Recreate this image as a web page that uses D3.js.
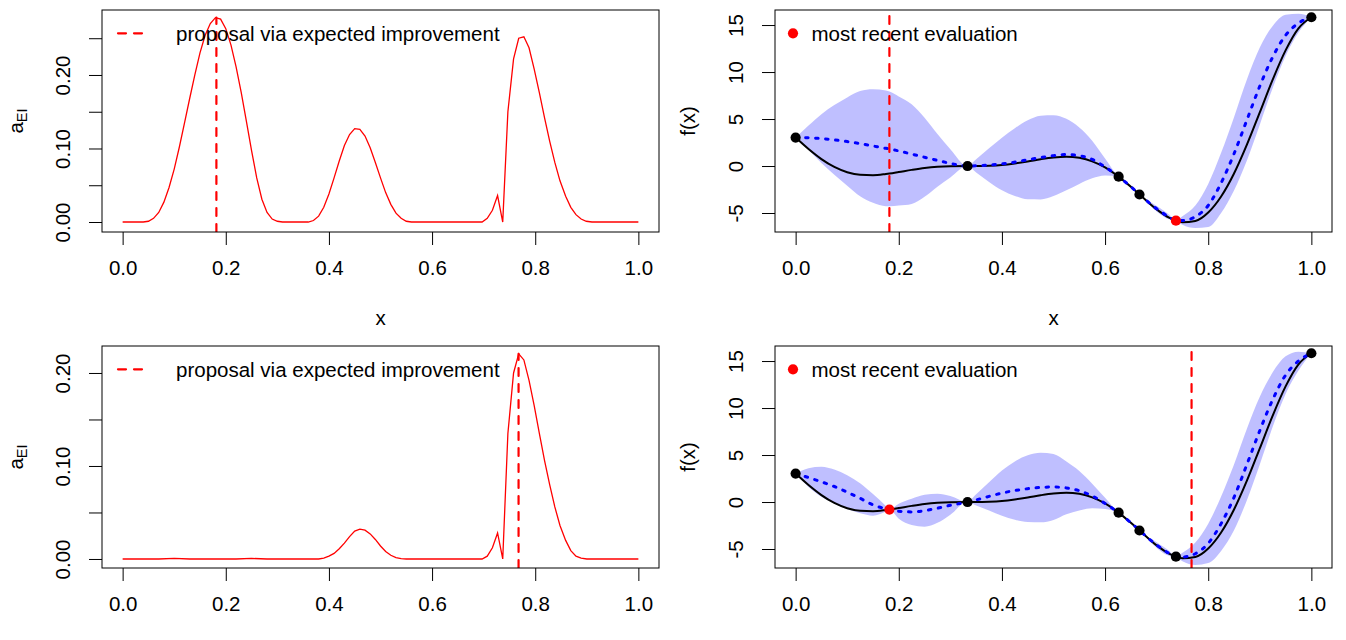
<!DOCTYPE html>
<html><head><meta charset="utf-8">
<script src="https://cdn.jsdelivr.net/npm/d3@7"></script>
<style>
body{margin:0;background:#fff}
svg{display:block}
text{font-family:"Liberation Sans",Arial,Helvetica,sans-serif;fill:#000}
</style>
</head><body>
<svg id="chart" width="1346" height="640"></svg>
<script>
// ---------------- data ----------------
const xTicks = [0, 0.2, 0.4, 0.6, 0.8, 1.0];
const eiTicksTop = [0, 0.05, 0.10, 0.15, 0.20, 0.25];
const eiTicksBottom = [0, 0.05, 0.10, 0.15, 0.20];
const eiLabelled = [0, 0.10, 0.20];
const fTicks = [-5, 0, 5, 10, 15];

const xLim = [-0.04, 1.04];
const eiLimTop = [-0.0136, 0.2884];
const eiLimBottom = [-0.0097, 0.229];
const fLim = [-7.02, 16.6];

// expected improvement, first iteration
const eiTopX = [0,0.04,0.05,0.06,0.07,0.08,0.09,0.10,0.11,0.12,0.13,0.14,0.15,0.16,0.17,0.18,0.19,0.20,0.21,0.22,0.23,0.24,0.25,0.26,0.27,0.28,0.29,0.30,0.31,
  0.36,0.37,0.38,0.39,0.40,0.41,0.42,0.43,0.44,0.45,0.46,0.47,0.48,0.49,0.50,0.51,0.52,0.53,0.54,0.55,0.56,
  0.697,0.707,0.717,0.727,0.737,0.747,0.758,0.768,0.778,0.788,0.798,0.808,0.818,0.828,0.838,0.848,0.859,0.869,0.879,0.889,0.899,0.91,1.0];
const eiTopY = [0,0,0.001,0.005,0.013,0.027,0.047,0.072,0.102,0.135,0.168,0.2,0.23,0.254,0.27,0.278,0.276,0.263,0.241,0.211,0.176,0.137,0.097,0.06,0.031,0.013,0.004,0.001,0,
  0,0.002,0.008,0.02,0.038,0.06,0.083,0.104,0.119,0.127,0.126,0.117,0.101,0.081,0.06,0.04,0.024,0.012,0.005,0.001,0,
  0,0.005,0.016,0.036,0,0.15,0.222,0.25,0.252,0.237,0.208,0.176,0.142,0.11,0.081,0.056,0.035,0.02,0.01,0.004,0.001,0,0];

// expected improvement, second iteration
const eiBotX = [0,0.07,0.1,0.13,0.22,0.25,0.28,0.38,0.39,0.40,0.41,0.42,0.43,0.44,0.45,0.46,0.47,0.48,0.49,0.50,0.51,0.52,0.53,0.54,0.55,
  0.697,0.707,0.717,0.727,0.737,0.747,0.758,0.768,0.778,0.788,0.798,0.808,0.818,0.828,0.838,0.848,0.859,0.869,0.879,0.889,0.9,1.0];
const eiBotY = [0,0,0.0006,0,0,0.0006,0,0,0.001,0.003,0.006,0.011,0.017,0.024,0.03,0.032,0.031,0.027,0.021,0.014,0.008,0.004,0.0015,0.0004,0,
  0,0.003,0.012,0.028,0,0.135,0.2,0.2206,0.214,0.192,0.165,0.135,0.106,0.08,0.056,0.036,0.02,0.009,0.003,0.001,0,0];

const proposalTop = 0.1818;
const proposalBottom = 0.7677;

// Gaussian-process panels
const gpX = [0,0.025,0.05,0.075,0.1,0.125,0.15,0.175,0.182,0.2,0.225,0.25,0.275,0.3,0.333,0.35,0.375,0.4,0.425,0.45,0.475,0.5,0.525,0.55,0.575,0.6,0.626,0.65,0.667,0.7,0.725,0.737,0.75,0.775,0.8,0.825,0.85,0.875,0.9,0.925,0.95,0.975,1.0];
const fTrue = [3.03,1.81,0.74,-0.10,-0.66,-0.94,-0.98,-0.85,-0.80,-0.64,-0.41,-0.21,-0.08,-0.02,0,0,0.03,0.11,0.27,0.48,0.72,0.91,0.99,0.87,0.50,-0.15,-1.13,-2.21,-3.03,-4.61,-5.52,-5.81,-5.99,-5.85,-4.95,-3.25,-0.80,2.27,5.71,9.19,12.30,14.65,15.83];

const meanTop = [3.03,3.0,2.92,2.78,2.6,2.38,2.13,1.88,1.82,1.6,1.27,0.93,0.6,0.28,0,0.02,0.1,0.22,0.42,0.66,0.9,1.1,1.22,1.1,0.7,-0.1,-1.13,-2.2,-3.03,-4.55,-5.45,-5.81,-5.8,-5.4,-4.2,-1.8,1.3,4.9,8.5,11.6,13.9,15.2,15.83];
const bandTop = [0,1.3,2.6,3.7,4.7,5.6,6.05,6.15,6.1,5.8,5.3,4.2,2.8,1.5,0,0.7,1.8,2.8,3.6,4.2,4.45,4.3,3.8,3.0,2.0,0.9,0,0.15,0,0.3,0.25,0,0.45,1.2,2.3,3.2,3.9,4.3,4.1,3.3,2.2,1.0,0];

const meanBottom = [3.03,2.6,2.15,1.65,1.05,0.4,-0.3,-0.72,-0.80,-0.98,-1.05,-0.92,-0.66,-0.35,0,0.22,0.6,0.95,1.22,1.42,1.55,1.6,1.5,1.2,0.65,-0.15,-1.13,-2.2,-3.03,-4.58,-5.48,-5.81,-5.85,-5.5,-4.4,-2.3,0.5,4.0,7.6,10.9,13.5,15.0,15.83];
const bandBottom = [0,1.0,1.6,1.8,1.8,1.6,1.15,0.3,0,0.8,1.4,1.7,1.55,1.0,0,0.6,1.5,2.4,3.1,3.55,3.7,3.5,2.8,2.1,1.3,0.6,0,0.15,0,0.3,0.25,0,0.45,1.2,2.1,2.9,3.5,3.8,3.6,2.9,2.0,1.0,0];

const obsTopX = [0, 0.3333, 0.6263, 0.6667, 1.0];
const obsTopY = [3.03, 0, -1.13, -3.03, 15.83];
const recentTop = [0.7374, -5.81];
const obsBotX = [0, 0.3333, 0.6263, 0.6667, 0.7374, 1.0];
const obsBotY = [3.03, 0, -1.13, -3.03, -5.81, 15.83];
const recentBot = [0.1818, -0.80];

const legendEI = "proposal via expected improvement";
const legendGP = "most recent evaluation";

// ---------------- drawing ----------------
const svg = d3.select("#chart");
const W = 557, H = 222, FS = 20.5, R = 5.1;
const FONT = '"Liberation Sans",Arial,Helvetica,sans-serif';
const panels = [
  {left:102, top:10, kind:"ei", xs:eiTopX, ys:eiTopY, lim:eiLimTop, ticks:eiTicksTop, prop:proposalTop, xlab:true},
  {left:775, top:10, kind:"gp", mean:meanTop, band:bandTop, obsX:obsTopX, obsY:obsTopY, recent:recentTop, prop:proposalTop, xlab:true},
  {left:102, top:346, kind:"ei", xs:eiBotX, ys:eiBotY, lim:eiLimBottom, ticks:eiTicksBottom, prop:proposalBottom, xlab:false},
  {left:775, top:346, kind:"gp", mean:meanBottom, band:bandBottom, obsX:obsBotX, obsY:obsBotY, recent:recentBot, prop:proposalBottom, xlab:false}
];

panels.forEach((p, i) => {
  const g = svg.append("g").attr("transform", `translate(${p.left},${p.top})`);
  const x = d3.scaleLinear().domain(xLim).range([0, W]);
  const y = d3.scaleLinear().domain(p.kind === "ei" ? p.lim : fLim).range([H, 0]);
  const clipId = "clip" + i;
  g.append("clipPath").attr("id", clipId).append("rect").attr("width", W).attr("height", H);
  const plot = g.append("g").attr("clip-path", `url(#${clipId})`);

  if (p.kind === "ei") {
    const line = d3.line().x(d => x(d[0])).y(d => y(d[1]));
    plot.append("path").datum(d3.zip(p.xs, p.ys)).attr("d", line)
      .attr("fill", "none").attr("stroke", "#ff0000").attr("stroke-width", 1.3);
    const peak = d3.max(p.ys);
    plot.append("line").attr("x1", x(p.prop)).attr("x2", x(p.prop))
      .attr("y1", H).attr("y2", y(peak))
      .attr("stroke", "#ff0000").attr("stroke-width", 2.2)
      .attr("stroke-dasharray", "8,8").attr("stroke-linecap", "round");
    // legend
    g.append("line").attr("x1", 16).attr("x2", 46).attr("y1", 23.3).attr("y2", 23.3)
      .attr("stroke", "#ff0000").attr("stroke-width", 2.2)
      .attr("stroke-dasharray", "8,8").attr("stroke-linecap", "round");
    g.append("text").attr("x", 74).attr("y", 31).attr("font-size", FS).text(legendEI);
  } else {
    const rows = gpX.map((xv, k) => ({x: xv, f: fTrue[k], m: p.mean[k], w: p.band[k]}));
    const area = d3.area().curve(d3.curveMonotoneX)
      .x(d => x(d.x)).y0(d => y(d.m - d.w)).y1(d => y(d.m + d.w));
    plot.append("path").datum(rows).attr("d", area).attr("fill", "rgba(0,0,255,0.25)");
    plot.append("path").datum(rows)
      .attr("d", d3.line().curve(d3.curveMonotoneX).x(d => x(d.x)).y(d => y(d.f)))
      .attr("fill", "none").attr("stroke", "#000").attr("stroke-width", 2);
    plot.append("path").datum(rows)
      .attr("d", d3.line().curve(d3.curveMonotoneX).x(d => x(d.x)).y(d => y(d.m)))
      .attr("fill", "none").attr("stroke", "#0000ff").attr("stroke-width", 3)
      .attr("stroke-dasharray", "2.5,7.5").attr("stroke-linecap", "round");
    plot.selectAll("circle.obs").data(d3.zip(p.obsX, p.obsY)).join("circle")
      .attr("class", "obs").attr("cx", d => x(d[0])).attr("cy", d => y(d[1])).attr("r", R).attr("fill", "#000");
    plot.append("circle").attr("cx", x(p.recent[0])).attr("cy", y(p.recent[1])).attr("r", R).attr("fill", "#ff0000");
    plot.append("line").attr("x1", x(p.prop)).attr("x2", x(p.prop))
      .attr("y1", H).attr("y2", 0)
      .attr("stroke", "#ff0000").attr("stroke-width", 2.2)
      .attr("stroke-dasharray", "8,8").attr("stroke-linecap", "round");
    // legend
    g.append("circle").attr("cx", 18).attr("cy", 23.3).attr("r", R).attr("fill", "#ff0000");
    g.append("text").attr("x", 36.5).attr("y", 31).attr("font-size", FS).text(legendGP);
  }

  // box
  g.append("rect").attr("width", W).attr("height", H).attr("fill", "none")
    .attr("stroke", "#000").attr("stroke-width", 1);

  // x axis
  const xa = g.append("g").attr("transform", `translate(0,${H})`)
    .call(d3.axisBottom(x).tickValues(xTicks).tickFormat(d3.format(".1f")).tickSize(13).tickSizeOuter(0));
  xa.attr("font-size", FS).attr("font-family", FONT).attr("color", "#000");
  xa.select(".domain").remove();
  xa.selectAll(".tick line").attr("stroke-width", 1);
  xa.selectAll(".tick text").attr("y", 36).attr("dy", "0.36em").style("fill", "#000");

  // y axis
  const yt = p.kind === "ei" ? p.ticks : fTicks;
  const yfmt = p.kind === "ei"
    ? (d => eiLabelled.some(v => Math.abs(v - d) < 1e-9) ? d.toFixed(2) : "")
    : (d => String(d));
  const ya = g.append("g")
    .call(d3.axisLeft(y).tickValues(yt).tickFormat(yfmt).tickSize(13).tickSizeOuter(0));
  ya.attr("font-size", FS).attr("font-family", FONT).attr("color", "#000");
  ya.select(".domain").remove();
  ya.selectAll(".tick text").attr("x", 0).attr("y", 0).attr("dy", "0.36em")
    .attr("text-anchor", "middle").attr("transform", "translate(-39,0) rotate(-90)").style("fill", "#000");

  // axis titles
  if (p.xlab) {
    g.append("text").attr("x", W / 2).attr("y", H + 93).attr("text-anchor", "middle")
      .attr("font-size", FS).text("x");
  }
  if (p.kind === "ei") {
    const t = g.append("text").attr("transform", `translate(${23 - p.left},${H / 2}) rotate(-90)`)
      .attr("text-anchor", "middle").attr("font-size", FS);
    t.append("tspan").text("a");
    t.append("tspan").attr("font-size", 14.5).attr("dy", 4).text("EI");
  } else {
    g.append("text").attr("transform", `translate(-80,${H / 2}) rotate(-90)`)
      .attr("text-anchor", "middle").attr("font-size", FS).text("f(x)");
  }
});
</script>
</body></html>
